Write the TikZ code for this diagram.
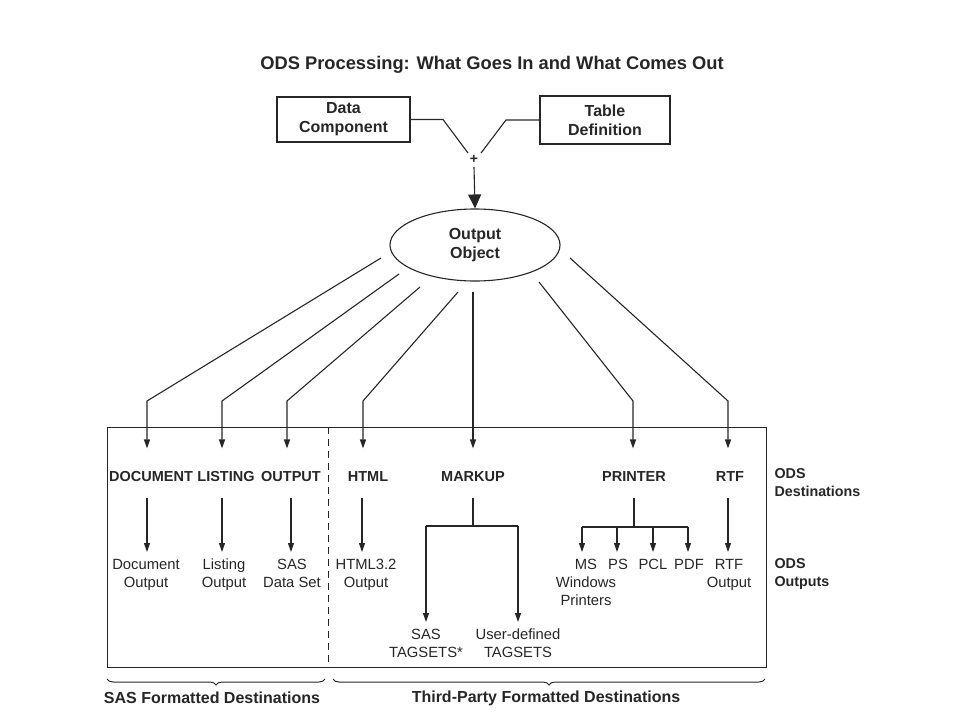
\documentclass[tikz,border=0pt]{standalone}
\usepackage{fontspec}
\setmainfont{Liberation Sans}
\usetikzlibrary{arrows.meta,shapes.geometric,decorations.pathreplacing}
\begin{document}
\begin{tikzpicture}[x=1pt,y=-1pt,
  line width=1.1pt, draw=black!85,
  every node/.style={text=black!85},
  boxnode/.style={draw, rectangle, align=center, font=\fontsize{16}{19}\selectfont\bfseries, inner sep=0},
  dest/.style={font=\fontsize{14.5}{17}\selectfont\bfseries, inner sep=0, text height=11pt, text depth=3pt},
  outp/.style={font=\fontsize{14.8}{18}\selectfont, align=center, inner sep=0, anchor=north},
  side/.style={font=\fontsize{14.3}{18}\selectfont\bfseries, align=left, anchor=north west, inner sep=0},
  arr/.style={-{Triangle[length=9pt,width=6pt]}},
  bigarr/.style={-{Triangle[length=14pt,width=13pt]}},
  bottomlbl/.style={font=\fontsize{16}{19}\selectfont\bfseries, inner sep=0},
  bracestyle/.style={decorate, decoration={brace, mirror, amplitude=6pt}, line width=1pt}
]
\useasboundingbox (0,0) rectangle (960,720);

% title
\node[font=\fontsize{18.3}{22}\selectfont\bfseries, inner sep=0] (title) at (492,65) {ODS Processing: What Goes In and What Comes Out};

% input boxes
\node[boxnode, minimum width=133pt, minimum height=45pt] (dc) at (343.5,119.5) {Data\\Component};
\node[boxnode, minimum width=130pt, minimum height=48pt] (td) at (605,120) {Table\\Definition};
\node[font=\fontsize{14}{16}\selectfont\bfseries, inner sep=0] (plus) at (474,159) {+};

\coordinate (dcb) at (443,119.5);
\coordinate (dce) at (468,153);
\coordinate (tdb) at (506,120);
\coordinate (tde) at (481,153);
\draw (dc.east) -- (dcb) -- (dce);
\draw (td.west) -- (tdb) -- (tde);

% output object
\node[draw, ellipse, minimum width=170pt, minimum height=72pt, inner sep=0, align=center,
      font=\fontsize{16}{19}\selectfont\bfseries] (oo) at (475,245) {Output\\Object};
\coordinate (pa) at (474,167);
\draw[bigarr] (pa) -- (oo.north);

% fan start and bend points
\coordinate (s1) at (381,258); \coordinate (b1) at (147,401);
\coordinate (s2) at (399,274); \coordinate (b2) at (222,401);
\coordinate (s3) at (420,287); \coordinate (b3) at (287,401);
\coordinate (s4) at (458,292); \coordinate (b4) at (363,401);
\coordinate (s5) at (473,292);
\coordinate (s6) at (539,282); \coordinate (b6) at (633,401);
\coordinate (s7) at (570,258); \coordinate (b7) at (728,401);

% main frame
\draw[line width=1pt] (107,427) rectangle (766,667);
\coordinate (dt) at (328,427);
\coordinate (db) at (328,667);
\draw[line width=1pt, dash pattern=on 7pt off 5pt] (dt) -- (db);

% destinations
\node[dest] (doc) at (151,477) {DOCUMENT};
\node[dest] (lst) at (226,477) {LISTING};
\node[dest] (out) at (291,477) {OUTPUT};
\node[dest] (html) at (368,477) {HTML};
\node[dest] (mk) at (473,477) {MARKUP};
\node[dest] (prn) at (634,477) {PRINTER};
\node[dest] (rtf) at (730,477) {RTF};

\draw[arr, shorten >=21pt] (s1) -- (b1) -- (b1 |- doc.north);
\draw[arr, shorten >=21pt] (s2) -- (b2) -- (b2 |- lst.north);
\draw[arr, shorten >=21pt] (s3) -- (b3) -- (b3 |- out.north);
\draw[arr, shorten >=21pt] (s4) -- (b4) -- (b4 |- html.north);
\draw[arr, shorten >=21pt] (s5) -- (s5 |- mk.north);
\draw[arr, shorten >=21pt] (s6) -- (b6) -- (b6 |- prn.north);
\draw[arr, shorten >=21pt] (s7) -- (b7) -- (b7 |- rtf.north);

% side labels
\node[side] (odsd) at (774,468) {ODS\\Destinations};
\node[side] (odso) at (774,558) {ODS\\Outputs};

% outputs
\node[outp] (docout) at (146,556) {\strut Document\\Output};
\node[outp] (lstout) at (224,556) {\strut Listing\\Output};
\node[outp] (outout) at (292,556) {\strut SAS\\Data Set};
\node[outp] (htmlout) at (366,556) {\strut HTML3.2\\Output};
\node[outp] (rtfout) at (729,556) {\strut RTF\\Output};
\node[outp] (ms) at (586,556) {\strut MS\\Windows\\Printers};
\node[outp] (ps) at (618,556) {\strut PS};
\node[outp] (pcl) at (653,556) {\strut PCL};
\node[outp] (pdf) at (689,556) {\strut PDF};
\node[outp] (sast) at (426,626) {\strut SAS\\TAGSETS*};
\node[outp] (usrt) at (518,626) {\strut User-defined\\TAGSETS};

\draw[arr, shorten <=13pt, shorten >=4pt] (doc.south -| 147,0) coordinate (d1) -- (d1 |- docout.north);
\draw[arr, shorten <=13pt, shorten >=4pt] (lst.south -| 222,0) coordinate (d2) -- (d2 |- lstout.north);
\draw[arr, shorten <=13pt, shorten >=4pt] (out.south -| 291,0) coordinate (d3) -- (d3 |- outout.north);
\draw[arr, shorten <=13pt, shorten >=4pt] (html.south -| 362,0) coordinate (d4) -- (d4 |- htmlout.north);
\draw[arr, shorten <=13pt, shorten >=4pt] (rtf.south -| 728,0) coordinate (d7) -- (d7 |- rtfout.north);

% printer tree
\coordinate (pj) at (634,527);
\coordinate (pl) at (582,527);
\coordinate (pr) at (688,527);
\draw[shorten <=13pt] (prn.south -| pj) -- (pj);
\draw (pl) -- (pr);
\draw[arr, shorten >=4pt] (pl) -- (pl |- ms.north);
\draw[arr, shorten >=4pt] (pj -| 617,0) -- (617,0 |- ps.north);
\draw[arr, shorten >=4pt] (pj -| 653,0) -- (653,0 |- pcl.north);
\draw[arr, shorten >=4pt] (pr) -- (pr |- pdf.north);

% markup tree
\coordinate (mj) at (473,526);
\coordinate (ml) at (426,526);
\coordinate (mr) at (518,526);
\draw[shorten <=13pt] (mk.south -| mj) -- (mj);
\draw (ml) -- (mr);
\draw[arr, shorten >=4pt] (ml) -- (ml |- sast.north);
\draw[arr, shorten >=4pt] (mr) -- (mr |- usrt.north);

% braces
\coordinate (bl1) at (107,679);
\coordinate (bl2) at (325,679);
\coordinate (br1) at (333,679);
\coordinate (br2) at (765,679);
\draw[bracestyle] (bl1) -- (bl2);
\draw[bracestyle] (br1) -- (br2);
\node[bottomlbl] (sasf) at (212,698) {SAS Formatted Destinations};
\node[bottomlbl] (thdf) at (546,698) {Third-Party Formatted Destinations};
\end{tikzpicture}
\end{document}
